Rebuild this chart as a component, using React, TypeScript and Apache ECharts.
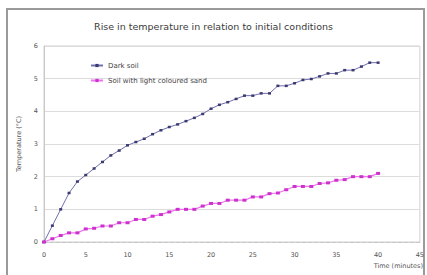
import React, { useEffect, useRef } from "react";
import * as echarts from "echarts";

const minutes = [0, 1, 2, 3, 4, 5, 6, 7, 8, 9, 10, 11, 12, 13, 14, 15, 16, 17, 18, 19, 20, 21, 22, 23, 24, 25, 26, 27, 28, 29, 30, 31, 32, 33, 34, 35, 36, 37, 38, 39, 40];
const darkSoil = [0, 0.5, 1.0, 1.5, 1.85, 2.05, 2.25, 2.45, 2.65, 2.8, 2.96, 3.06, 3.16, 3.3, 3.42, 3.52, 3.6, 3.7, 3.8, 3.92, 4.08, 4.2, 4.28, 4.38, 4.48, 4.48, 4.55, 4.55, 4.78, 4.78, 4.86, 4.96, 4.99, 5.07, 5.16, 5.16, 5.26, 5.26, 5.37, 5.49, 5.49];
const lightSand = [0, 0.1, 0.2, 0.28, 0.28, 0.4, 0.42, 0.49, 0.49, 0.59, 0.59, 0.69, 0.69, 0.79, 0.84, 0.92, 1.0, 1.0, 1.0, 1.1, 1.18, 1.18, 1.28, 1.28, 1.28, 1.38, 1.38, 1.48, 1.5, 1.6, 1.7, 1.7, 1.7, 1.79, 1.81, 1.89, 1.91, 2.0, 2.0, 2.0, 2.1];
const seriesNames = ["Dark soil", "Soil with light coloured sand"];
const titleText = "Rise in temperature in relation to initial conditions";
const xAxisName = "Time (minutes)";
const yAxisName = "Temperature (°C)";

const font = "DejaVu Sans";

export default function App() {
  const ref = useRef<HTMLDivElement>(null);
  useEffect(() => {
    document.body.style.margin = "0";
    const chart = echarts.init(ref.current!, null, { renderer: "svg" });
    chart.setOption({
      animation: false,
      backgroundColor: "#ffffff",
      title: {
        text: titleText,
        left: "center",
        top: 16,
        textStyle: { fontSize: 9.5, fontWeight: "normal", color: "#3a3a3a", fontFamily: font },
      },
      legend: {
        orient: "vertical",
        left: 85,
        top: 57,
        itemWidth: 12,
        itemHeight: 4,
        itemGap: 8,
        textStyle: { fontSize: 7, color: "#444", fontFamily: font },
        data: seriesNames,
      },
      grid: {
        left: 44,
        right: 6,
        top: 46,
        bottom: 33,
        show: true,
        borderColor: "#d0d0d0",
        borderWidth: 1,
      },
      xAxis: {
        type: "value",
        min: 0,
        max: 45,
        interval: 5,
        axisLine: { show: true, lineStyle: { color: "#c8c8c8", type: "dashed", width: 1 } },
        axisTick: { show: false },
        splitLine: { show: false },
        axisLabel: { fontSize: 6.5, color: "#555", fontFamily: font, margin: 9 },
      },
      yAxis: {
        type: "value",
        min: 0,
        max: 6,
        interval: 1,
        name: yAxisName,
        nameLocation: "middle",
        nameGap: 21,
        nameTextStyle: { fontSize: 6.5, color: "#555", fontFamily: font },
        axisLine: { show: true, lineStyle: { color: "#c8c8c8" } },
        axisTick: { show: false },
        splitLine: { show: true, lineStyle: { color: "#dcdcdc", width: 1 } },
        axisLabel: { fontSize: 6.5, color: "#555", fontFamily: font, margin: 6 },
      },
      series: [
        {
          name: seriesNames[0],
          type: "line",
          data: minutes.map((m, i) => [m, darkSoil[i]]),
          symbol: "rect",
          symbolSize: [3, 2.5],
          lineStyle: { color: "#7070b0", width: 1 },
          itemStyle: { color: "#3a3a70" },
        },
        {
          name: seriesNames[1],
          type: "line",
          data: minutes.map((m, i) => [m, lightSand[i]]),
          symbol: "rect",
          symbolSize: [4, 3],
          lineStyle: { color: "#f070f0", width: 1.2 },
          itemStyle: { color: "#cc33cc" },
        },
      ],
      graphic: [
        {
          type: "rect",
          shape: { x: 7, y: 9, width: 417, height: 280 },
          style: { fill: "none", stroke: "#9a9a9a", lineWidth: 2 },
          silent: true,
        },
        {
          type: "text",
          x: 423,
          y: 262,
          style: {
            text: xAxisName,
            fontSize: 6.5,
            fill: "#555",
            fontFamily: font,
            align: "right",
          },
        },
      ],
    });
    return () => chart.dispose();
  }, []);
  return (
    <div style={{ position: "fixed", left: 0, top: 0 }}>
      <div ref={ref} style={{ width: 427, height: 275 }} />
    </div>
  );
}
